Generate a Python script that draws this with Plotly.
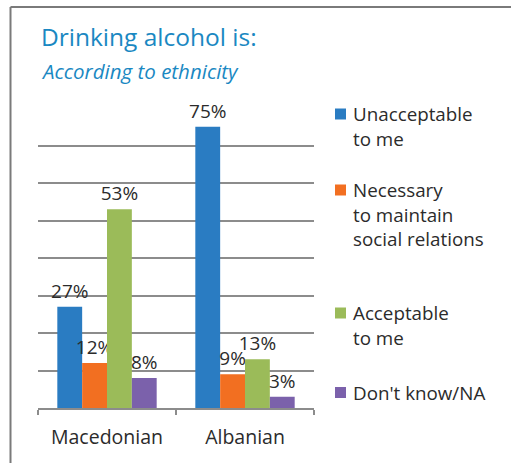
import plotly.graph_objects as go

# Survey shares (%) by ethnic group
groups = ["Macedonian", "Albanian"]
series_names = [
    "Unacceptable to me",
    "Necessary to maintain social relations",
    "Acceptable to me",
    "Don't know/NA",
]
legend_lines = [
    ["Unacceptable", "to me"],
    ["Necessary", "to maintain", "social relations"],
    ["Acceptable", "to me"],
    ["Don't know/NA"],
]
unacceptable = [27, 75]
necessary = [12, 9]
acceptable = [53, 13]
dont_know = [8, 3]
series_values = [unacceptable, necessary, acceptable, dont_know]
colors = ["#2a7cc2", "#f26f21", "#9bbb59", "#7b61ab"]

W, H = 511, 463
L, R, T, B = 38, 197, 108, 55
PW, PH = W - L - R, H - T - B
FONT = "Open Sans"
TXT = "#2b2b2b"
BLUE_TXT = "#1a88c2"


def px_x(x):
    return (x - L) / PW


def px_y(y):
    return (H - B - y) / PH


fig = go.Figure()
for name, vals, col in zip(series_names, series_values, colors):
    fig.add_trace(go.Bar(
        x=groups, y=vals, name=name,
        marker=dict(color=col, line=dict(width=0)),
        text=[f"{v}%" for v in vals],
        textposition="outside",
        textfont=dict(family=FONT, size=19, color=TXT),
        constraintext="none",
        cliponaxis=False,
        showlegend=False,
    ))

annotations = [
    dict(text="Drinking alcohol is:", xref="paper", yref="paper",
         x=px_x(39), y=px_y(36), xanchor="left", yanchor="middle", showarrow=False,
         font=dict(family=FONT, size=24.5, color=BLUE_TXT)),
    dict(text="<i>According to ethnicity</i>", xref="paper", yref="paper",
         x=px_x(39), y=px_y(71), xanchor="left", yanchor="middle", showarrow=False,
         font=dict(family=FONT, size=20.5, color=BLUE_TXT)),
]
shapes = []

# Hand-placed legend at the right of the plot
first_line_y = [114, 190, 313, 392.5]
line_gap = 24.6
for lines, col, y0 in zip(legend_lines, colors, first_line_y):
    shapes.append(dict(type="rect", xref="paper", yref="paper",
                       x0=px_x(335), x1=px_x(346), y0=px_y(y0 - 5.5), y1=px_y(y0 + 5.5),
                       fillcolor=col, line=dict(width=0)))
    for i, ln in enumerate(lines):
        annotations.append(dict(text=ln, xref="paper", yref="paper",
                                x=px_x(351), y=px_y(y0 + i * line_gap),
                                xanchor="left", yanchor="middle", showarrow=False,
                                font=dict(family=FONT, size=18.8, color=TXT)))

# Frame around the figure
frame_col = "#7a7a7a"
shapes.append(dict(type="line", xref="paper", yref="paper",
                   x0=px_x(10.5), x1=px_x(W + 2), y0=px_y(7), y1=px_y(7),
                   line=dict(color=frame_col, width=2)))
shapes.append(dict(type="line", xref="paper", yref="paper",
                   x0=px_x(10.5), x1=px_x(10.5), y0=px_y(7), y1=px_y(H + 2),
                   line=dict(color=frame_col, width=2)))

fig.update_layout(
    width=W, height=H,
    margin=dict(l=L, r=R, t=T, b=B, autoexpand=False),
    paper_bgcolor="white", plot_bgcolor="white",
    barmode="group", bargap=0.28, bargroupgap=0,
    font=dict(family=FONT, color=TXT),
    annotations=annotations,
    shapes=shapes,
    xaxis=dict(
        showline=True, linecolor="#8c8c8c", linewidth=1.5,
        ticks="outside", tickson="boundaries", ticklen=5,
        tickcolor="#8c8c8c", tickwidth=1.5, tickangle=0,
        ticklabelstandoff=11,
        tickfont=dict(family=FONT, size=19.5, color=TXT),
        showgrid=False, automargin=False,
    ),
    yaxis=dict(
        range=[0, 80], dtick=10, showticklabels=False,
        showgrid=True, gridcolor="#8c8c8c", gridwidth=1.5,
        zeroline=False, showline=False, automargin=False,
    ),
)

fig.write_html("out.html")
